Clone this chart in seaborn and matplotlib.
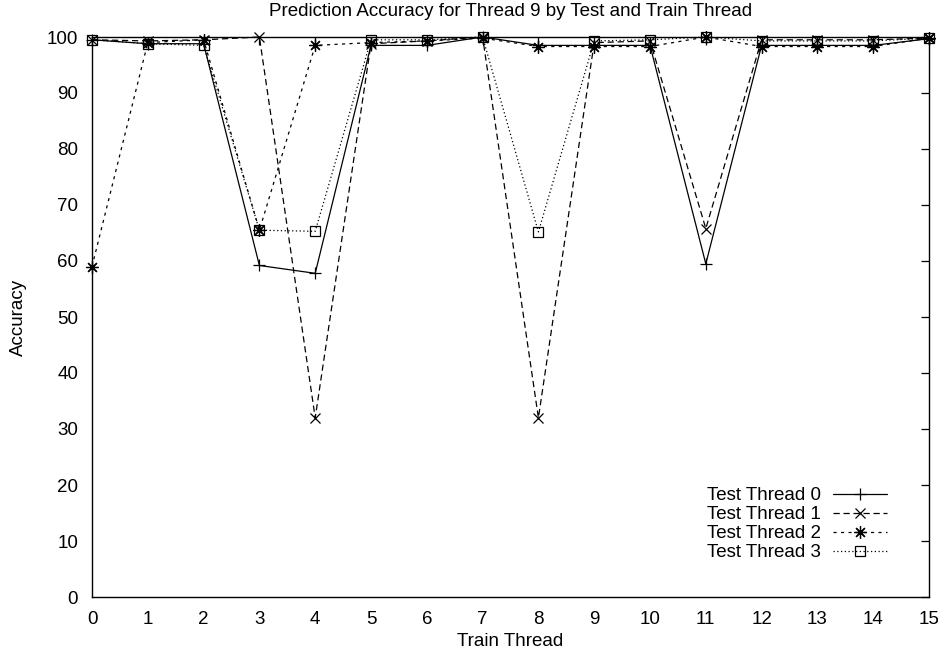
import matplotlib
matplotlib.use("Agg")
import matplotlib.pyplot as plt
import seaborn as sns

# train thread on x axis
train_threads = list(range(16))

# accuracy per test thread
test_thread_0 = [99.5, 98.8, 98.8, 59.2, 57.8, 98.5, 98.5, 100.0, 98.5, 98.5, 98.5, 59.5, 98.5, 98.5, 98.5, 99.7]
test_thread_1 = [99.5, 99.3, 99.5, 100.0, 32.0, 98.8, 99.3, 100.0, 32.0, 99.0, 99.3, 65.8, 99.5, 99.5, 99.5, 99.8]
test_thread_2 = [59.0, 99.0, 99.5, 65.5, 98.5, 99.0, 99.3, 99.8, 98.3, 98.3, 98.3, 100.0, 98.3, 98.3, 98.3, 99.8]
test_thread_3 = [99.5, 98.8, 98.5, 65.5, 65.3, 99.5, 99.5, 100.0, 65.2, 99.3, 99.5, 100.0, 99.3, 99.3, 99.3, 99.8]

labels = ["Test Thread 0", "Test Thread 1", "Test Thread 2", "Test Thread 3"]

sns.set_theme(style="white")
plt.rcParams["font.family"] = ["Liberation Sans", "DejaVu Sans"]
plt.rcParams["text.color"] = "black"
plt.rcParams["axes.labelcolor"] = "black"

fig = plt.figure(figsize=(9.38, 6.56), dpi=100)
ax = fig.add_axes([92 / 938, 1 - 597 / 656, 837 / 938, 560 / 656])

series = [test_thread_0, test_thread_1, test_thread_2, test_thread_3]
markers = ["+", "x", (8, 2, 0), "s"]
styles = ["-", (0, (5, 3)), (0, (2.5, 3.5)), (0, (1, 2))]
msizes = [9, 7, 9, 7]

for vals, lab, mk, ls, ms in zip(series, labels, markers, styles, msizes):
    sns.lineplot(x=train_threads, y=vals, ax=ax, color="black", linewidth=0.9,
                 linestyle=ls, marker=mk, markersize=ms, markerfacecolor="none",
                 markeredgecolor="black", markeredgewidth=0.9, label=lab, clip_on=False)

fs = 13.5
ax.set_xlim(0, 15)
ax.set_ylim(0, 100)
ax.set_xticks(range(0, 16))
ax.set_yticks(range(0, 101, 10))
ax.tick_params(direction="in", length=6, width=0.9, top=True, right=True,
               labelsize=fs, colors="black", pad=10)
for sp in ax.spines.values():
    sp.set_color("black")
    sp.set_linewidth(1.0)

ax.set_title("Prediction Accuracy for Thread 9 by Test and Train Thread", fontsize=fs, pad=15, color="black")
ax.set_xlabel("Train Thread", fontsize=fs, labelpad=4)
ax.set_ylabel("Accuracy", fontsize=fs, labelpad=14)

ax.legend(loc="lower right", bbox_to_anchor=(0.95, 0.064), frameon=False, markerfirst=False,
          fontsize=fs, handlelength=2.9, labelspacing=0.1, borderpad=0, borderaxespad=0,
          handletextpad=0.64)

fig.savefig("out.png", dpi=100)
